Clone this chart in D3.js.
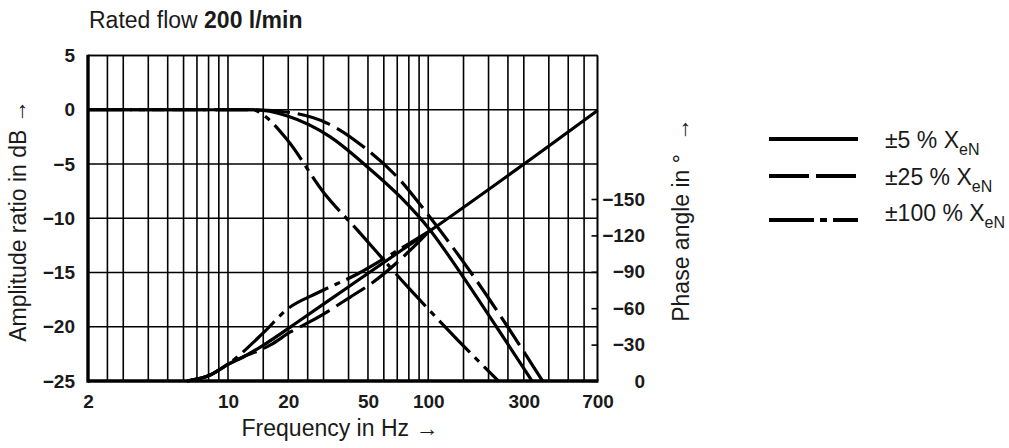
<!DOCTYPE html>
<html>
<head>
<meta charset="utf-8">
<script src="https://cdn.jsdelivr.net/npm/d3@7"></script>
<style>
  body { margin: 0; background: #fff; }
  svg { display: block; }
  text { font-family: "Liberation Sans", Arial, Helvetica, sans-serif; fill: #1a1a1a; }
</style>
</head>
<body>
<svg id="chart" width="1009" height="448"></svg>
<script>
// ---- data ----
const freqTicks = [2, 10, 20, 50, 100, 300, 700];
const freqGrid = [2.5, 3, 4, 5, 6, 7, 8, 9, 10, 15, 20, 25, 30, 40, 50, 60, 70, 80, 90,
                  100, 150, 200, 250, 300, 400, 500, 600, 700];
const dbTicks = [5, 0, -5, -10, -15, -20, -25];
const phaseTicks = [0, -30, -60, -90, -120, -150];

// amplitude ratio (dB) vs frequency (Hz)
const ampFreq5   = [2, 13.4, 19.8, 32.4, 49.7, 72.6, 102, 145, 219, 330];
const ampDb5     = [0, 0, -0.58, -2.5, -5.27, -8.04, -11.08, -15.05, -20.0, -25];
const ampFreq25  = [2, 13.4, 21.2, 31.3, 48.5, 70.9, 100, 164, 249, 372];
const ampDb25    = [0, 0, -0.3, -1.24, -3.55, -6.31, -9.7, -15.05, -20.0, -25];
const ampFreq100 = [2, 13.4, 15.0, 19.8, 29.9, 44.3, 81.5, 140, 224];
const ampDb100   = [0, 0, -0.48, -2.79, -7.58, -11.1, -16.6, -21.2, -25];

// phase angle (degrees) vs frequency (Hz)
const phFreq5   = [6.25, 8.15, 9.87, 11.9, 14.5, 23.8, 39.4, 72.6, 100, 700];
const phDeg5    = [0, -4.9, -13.2, -19.8, -28, -51.9, -76.9, -107.1, -122.8, -223];
const phFreq25  = [6.25, 8.15, 9.87, 11.9, 16.3, 20.5, 26.7, 40.8, 53.2, 81.5, 100];
const phDeg25   = [0, -4.9, -13.2, -19.8, -29.7, -40.4, -50.3, -69.2, -81.6, -108, -122.8];
const phFreq100 = [6.25, 8.15, 9.87, 15.0, 19.8, 27.9, 44.3, 72.6, 100];
const phDeg100  = [0, -4.9, -13.2, -39.6, -59.3, -72.5, -88.2, -109, -122.8];

const seriesNames = ["±5 % X", "±25 % X", "±100 % X"];
const seriesSub = "eN";

// ---- layout ----
const L = 88, R = 597.5, T = 55.5, B = 381;
const svg = d3.select("#chart");

const x = d3.scaleLog().domain([2, 700]).range([L, R]);
const yDb = d3.scaleLinear().domain([-25, 5]).range([B, T]);
const yPh = d3.scaleLinear().domain([0, -150]).range([B, 199]);

const dashes = ["none", "34,8", "44,7,6,7"];

// ---- grid ----
const grid = svg.append("g").attr("stroke", "#000").attr("stroke-width", 1.6);
grid.selectAll("line.v").data(freqGrid).join("line")
  .attr("x1", d => x(d)).attr("x2", d => x(d))
  .attr("y1", T).attr("y2", B);
grid.selectAll("line.h").data(dbTicks).join("line")
  .attr("x1", L).attr("x2", R)
  .attr("y1", d => yDb(d)).attr("y2", d => yDb(d));

// ---- curves ----
const ampLine = d3.line().x(d => x(d[0])).y(d => yDb(d[1])).curve(d3.curveMonotoneX);
const phLine = d3.line().x(d => x(d[0])).y(d => yPh(d[1])).curve(d3.curveMonotoneX);

const ampSeries = [
  d3.zip(ampFreq5, ampDb5),
  d3.zip(ampFreq25, ampDb25),
  d3.zip(ampFreq100, ampDb100)
];
const phSeries = [
  d3.zip(phFreq5, phDeg5),
  d3.zip(phFreq25, phDeg25),
  d3.zip(phFreq100, phDeg100)
];

const curves = svg.append("g").attr("fill", "none").attr("stroke", "#000")
  .attr("stroke-width", 3.2);
ampSeries.forEach((s, i) => {
  curves.append("path").attr("d", ampLine(s)).attr("stroke-dasharray", dashes[i]);
});
phSeries.forEach((s, i) => {
  curves.append("path").attr("d", phLine(s)).attr("stroke-dasharray", dashes[i]);
});

// ---- axes ----
const tickFont = g => g.selectAll("text")
  .style("font-family", '"Liberation Sans", Arial, sans-serif')
  .style("font-size", "19px").style("font-weight", "bold").attr("fill", "#1a1a1a");

const leftAxis = svg.append("g").attr("transform", `translate(${L},0)`)
  .call(d3.axisLeft(yDb).tickValues(dbTicks).tickSize(0).tickPadding(13));
leftAxis.select(".domain").remove();
leftAxis.call(tickFont);

const bottomAxis = svg.append("g").attr("transform", `translate(0,${B})`)
  .call(d3.axisBottom(x).tickValues(freqTicks).tickFormat(d3.format("d"))
    .tickSize(0).tickPadding(14));
bottomAxis.select(".domain").remove();
bottomAxis.call(tickFont);

const rightAxis = svg.append("g").attr("transform", `translate(${R},0)`)
  .call(d3.axisRight(yPh).tickValues(phaseTicks).tickSize(-6).tickPadding(8));
rightAxis.select(".domain").remove();
rightAxis.selectAll(".tick line").attr("stroke", "#000").attr("stroke-width", 1.6);
rightAxis.call(tickFont);
rightAxis.selectAll("text").attr("x", 47.5).attr("text-anchor", "end");

// plot frame: thin top/right, heavy left/bottom
svg.append("line").attr("x1", L).attr("x2", R).attr("y1", T).attr("y2", T)
  .attr("stroke", "#000").attr("stroke-width", 1.6);
svg.append("line").attr("x1", R).attr("x2", R).attr("y1", T).attr("y2", B)
  .attr("stroke", "#000").attr("stroke-width", 1.6);
svg.append("line").attr("x1", L).attr("x2", L).attr("y1", T - 0.8).attr("y2", B + 1.7)
  .attr("stroke", "#000").attr("stroke-width", 3.4);
svg.append("line").attr("x1", L).attr("x2", R + 1).attr("y1", B).attr("y2", B)
  .attr("stroke", "#000").attr("stroke-width", 3.4);

// ---- titles ----
const title = svg.append("text").attr("x", 89).attr("y", 28).style("font-size", "23px");
title.append("tspan").text("Rated flow ");
title.append("tspan").style("font-weight", "bold").text("200 l/min");

svg.append("text").attr("x", 340).attr("y", 436).attr("text-anchor", "middle")
  .style("font-size", "23px").text("Frequency in Hz →");

svg.append("text").attr("transform", "translate(25.5,221) rotate(-90)")
  .attr("text-anchor", "middle").style("font-size", "23px")
  .text("Amplitude ratio in dB →");

svg.append("text").attr("transform", "translate(689,220) rotate(-90)")
  .attr("text-anchor", "middle").style("font-size", "23px")
  .text("Phase angle in °\u00a0\u00a0→");

// ---- legend ----
const legendY = [139, 176, 220];
const legendTextY = [148, 184.5, 221];
const legend = svg.append("g");
seriesNames.forEach((name, i) => {
  legend.append("line").attr("x1", 769).attr("x2", 858)
    .attr("y1", legendY[i]).attr("y2", legendY[i])
    .attr("stroke", "#000").attr("stroke-width", 4)
    .attr("stroke-dasharray", i === 0 ? "none" : (i === 1 ? "40,7" : "45,6,7,6"));
  const t = legend.append("text").attr("x", 885).attr("y", legendTextY[i])
    .style("font-size", "23px");
  t.append("tspan").text(name);
  t.append("tspan").attr("dy", 7).style("font-size", "16px").text(seriesSub);
});
</script>
</body>
</html>
